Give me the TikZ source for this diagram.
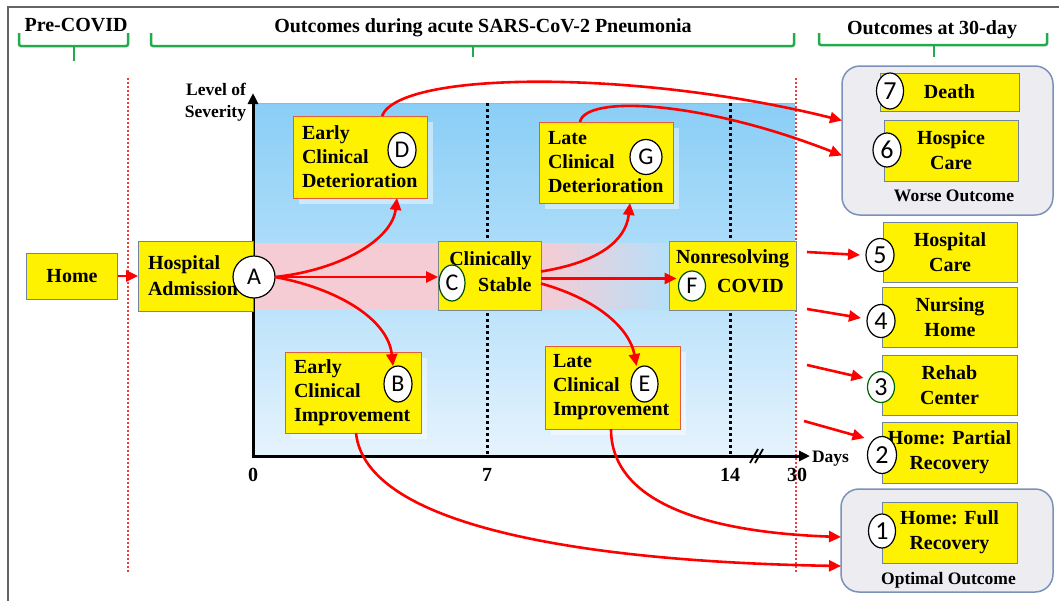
\documentclass[tikz,border=0pt]{standalone}
\usepackage{fontspec}
\setmainfont{Liberation Serif}
\newfontfamily\calibfont{Carlito}
\usetikzlibrary{arrows.meta,shapes.geometric,shadows}
\definecolor{bluetop}{RGB}{138,206,246}
\definecolor{bluemid}{RGB}{180,224,250}
\definecolor{bluebot}{RGB}{230,243,253}
\definecolor{bandpink}{RGB}{246,204,212}
\definecolor{bracegreen}{RGB}{34,170,76}
\definecolor{framegray}{RGB}{100,100,100}
\definecolor{boxblue}{RGB}{112,132,162}
\definecolor{boxred}{RGB}{228,92,64}
\definecolor{boxgray}{RGB}{125,135,140}
\definecolor{groupfill}{RGB}{236,236,241}
\definecolor{groupdraw}{RGB}{122,146,186}
\definecolor{arrowred}{RGB}{255,0,0}
\definecolor{dotred}{RGB}{240,60,60}
\begin{document}
\begin{tikzpicture}[x=1pt,y=-1pt,
  every node/.style={inner sep=0pt, outer sep=0pt},
  txt/.style={font=\bfseries\fontsize{20}{#1}\selectfont}, txt/.default=24,
  lbl/.style={font=\bfseries\fontsize{17.5}{21}\selectfont},
  ybox/.style={txt, fill=yellow, draw=#1, line width=0.9pt},
  shadowed/.style={drop shadow={shadow xshift=6pt, shadow yshift=-6pt, fill=white, opacity=0.45}},
  badge/.style={ellipse, draw=black, line width=1.2pt, fill=white, minimum width=28pt, minimum height=35pt, font=\calibfont\fontsize{24}{24}\selectfont},
  numbadge/.style={badge, font=\calibfont\fontsize{26}{26}\selectfont},
  redflow/.style={draw=arrowred, line width=2.6pt, -{Triangle[length=12pt,width=11pt]}},
  gbrace/.style={draw=bracegreen, line width=2.5pt, rounded corners=2pt},
  reddot/.style={draw=dotred, line width=2pt, dash pattern=on 2pt off 2pt},
  blackdot/.style={draw=black, line width=3pt, dash pattern=on 3pt off 3pt},
  axisline/.style={draw=black, line width=3pt, -{Triangle[length=11pt,width=10pt]}},
  groupbox/.style={draw=groupdraw, fill=groupfill, line width=1.5pt, rounded corners=18pt},
]
\useasboundingbox (0,0) rectangle (1059,600);

% frame
\draw[framegray, line width=2.2pt] (8,605) -- (8,7) -- (1065,7);

% headings
\node[txt, anchor=base] (hpre) at (76,31) {Pre-COVID};
\node[txt, anchor=base] (hacute) at (483,32) {Outcomes during acute SARS-CoV-2 Pneumonia};
\node[txt, anchor=base] (h30) at (932,34) {Outcomes at 30-day};

% braces
\draw[gbrace] (19,33) -- (19,46) -- (128,46) -- (128,33);
\draw[gbrace] (74,46) -- (74,61);
\draw[gbrace] (151,33) -- (151,46) -- (794,46) -- (794,33);
\draw[gbrace] (473,46) -- (473,57);
\draw[gbrace] (819,33) -- (819,45) -- (1047,45) -- (1047,33);
\draw[gbrace] (934,45) -- (934,57);

% left red dotted divider
\draw[reddot] (128,78) -- (128,572);

% plot area
\fill[top color=bluetop, bottom color=bluebot, middle color=bluemid] (253,103) rectangle (795,456);
\draw[boxblue!60, line width=0.8pt] (253,103) -- (795,103);
\fill[bandpink] (253,243) rectangle (545,309);
\fill[left color=bandpink, right color=bluemid] (545,243) rectangle (672,309);
\draw[blackdot] (487,103) -- (487,456);
\draw[blackdot] (730,103) -- (730,456);
\draw[reddot] (796,78) -- (796,572);

% axes
\draw[axisline] (253,457) -- (253,93);
\draw[axisline] (251.5,456) -- (810,456);
\draw[black, line width=1.8pt] (750,463) -- (758,449) (755,463) -- (763,449);
\node[txt, anchor=base] (t0) at (253,481) {0};
\node[txt, anchor=base] (t7) at (487,481) {7};
\node[txt, anchor=base] (t14) at (730,481) {14};
\node[txt, anchor=base] (t30) at (797,481) {30};
\node[lbl, anchor=base west] (days) at (812,462) {Days};
\node[lbl, anchor=base east] (lev1) at (246,95) {Level of};
\node[lbl, anchor=base east] (lev2) at (246,117) {Severity};

% outcome groups
\node[groupbox, minimum width=211pt, minimum height=149pt] (worse) at (947.5,140.5) {};
\node[groupbox, minimum width=212pt, minimum height=103pt] (optimal) at (947,540.5) {};
\node[lbl, anchor=base] (worselbl) at (954,201) {Worse Outcome};
\node[lbl, anchor=base] (optlbl) at (948.5,584) {Optimal Outcome};

% state boxes
\node[ybox=boxblue, minimum width=91pt, minimum height=46pt] (home) at (72,276) {Home};
\node[ybox=boxblue, txt=26, minimum width=115pt, minimum height=70pt, text width=95pt, align=left] (hosp) at (195.5,276) {Hospital\\Admission};
\node[ybox=boxred, shadowed, minimum width=134pt, minimum height=82pt, text width=116pt, align=left] (edet) at (360,157) {Early\\Clinical\\Deterioration};
\node[ybox=boxred, shadowed, minimum width=134pt, minimum height=81pt, text width=116pt, align=left] (ldet) at (606,162.5) {Late\\Clinical\\Deterioration};
\node[ybox=boxred, shadowed, minimum width=136pt, minimum height=81pt, text width=118pt, align=left] (eimp) at (353,392.5) {Early\\Clinical\\Improvement};
\node[ybox=boxred, shadowed, minimum width=135pt, minimum height=83pt, text width=119pt, align=left] (limp) at (612.5,387.5) {Late\\Clinical\\Improvement};
\node[ybox=boxgray, txt=26, text depth=34.5pt, minimum width=103pt, minimum height=69pt, text width=84pt, align=right] (stable) at (489.5,275.5) {Clinically\\Stable};
\node[ybox=boxgray, txt=29, text depth=38.5pt, minimum width=127pt, minimum height=69pt, text width=117pt, align=center] (nonres) at (732.5,275.5) {Nonresolving\\\hspace*{36pt}COVID};

% outcome boxes
\node[ybox=boxblue, txt=25, minimum width=139pt, minimum height=38pt, text width=124pt, align=center] (death) at (949.5,92) {Death};
\node[ybox=boxblue, txt=25, minimum width=134pt, minimum height=61pt, text width=124pt, align=center] (hospice) at (951,150.5) {Hospice\\Care};
\node[ybox=boxblue, txt=25, minimum width=134pt, minimum height=60pt, text width=124pt, align=center] (hcare) at (950,252) {Hospital\\Care};
\node[ybox=boxblue, txt=25, minimum width=135pt, minimum height=60pt, text width=124pt, align=center] (nursing) at (950,317) {Nursing\\Home};
\node[ybox=boxblue, txt=25, minimum width=135pt, minimum height=60pt, text width=124pt, align=center] (rehab) at (949.5,385) {Rehab\\Center};
\node[ybox=boxblue, txt=25, minimum width=135pt, minimum height=61pt, text width=133pt, align=center] (partial) at (949.5,452.5) {Home:\ Partial\\Recovery};
\node[ybox=boxblue, txt=25, minimum width=135pt, minimum height=61pt, text width=133pt, align=center] (full) at (949.5,532.5) {Home:\ Full\\Recovery};

% badges
\node[badge, minimum width=42pt, minimum height=42pt] (A) at (254,277) {A};
\node[badge] (D) at (402,150) {D};
\node[badge, minimum width=32pt] (G) at (646,157) {G};
\node[badge, minimum height=36pt] (B) at (398,384) {B};
\node[badge, minimum width=27pt, minimum height=36pt] (E) at (644.5,384) {E};
\node[badge, draw=black!70!green, minimum width=26pt, minimum height=36pt] (C) at (452,283) {C};
\node[badge, draw=black!70!green, minimum width=27pt, minimum height=30pt] (F) at (692,286) {F};
\node[numbadge, minimum width=27pt, minimum height=36pt] (n7) at (890,91) {7};
\node[numbadge, minimum height=34pt] (n6) at (887,150) {6};
\node[numbadge, minimum height=33pt] (n5) at (880,255) {5};
\node[numbadge, minimum height=33pt] (n4) at (881,321) {4};
\node[numbadge, draw=black!60!green, minimum width=27pt, minimum height=31pt] (n3) at (881,387) {3};
\node[numbadge, minimum width=29pt, minimum height=37pt] (n2) at (882,455) {2};
\node[numbadge, minimum width=27pt, minimum height=34pt] (n1) at (882,531) {1};

% connectors
\draw[redflow] (home.east) -- (hosp.west);
\draw[redflow] (A.east) -- (A.east -| stable.west);
\draw[redflow] (A.east) .. controls (340,270) and (392,240) .. ([xshift=37pt]edet.south);
\draw[redflow] (A.east) .. controls (335,288) and (388,318) .. ([xshift=-5pt]B.north);
\draw[redflow] ([yshift=4pt]stable.east) .. controls (600,262) and (626,240) .. ([xshift=24pt]ldet.south);
\path ([yshift=-3pt]stable.east) coordinate (sF);
\draw[redflow, shorten >=2pt] (sF) -- (sF -| F.west);
\draw[redflow] ([yshift=-8pt]stable.east) .. controls (600,300) and (630,330) .. ([xshift=-8pt]E.north);
\draw[redflow] ([xshift=22pt]edet.north) .. controls (400,70) and (640,70) .. ([yshift=20pt]worse.west);
\draw[redflow] ([xshift=-26pt]ldet.north) .. controls (585,95) and (700,100) .. ([yshift=-15pt]worse.west);
\draw[redflow] ([xshift=3pt]eimp.south) .. controls (366,530) and (600,562) .. ([yshift=-25.5pt]optimal.west);
\draw[redflow] ([xshift=-1.5pt]limp.south) .. controls (611,500) and (700,532) .. ([yshift=3.5pt]optimal.west);

\coordinate (s5) at (807,252);
\coordinate (s4) at (807,309);
\coordinate (s3) at (807,365);
\coordinate (s2) at (804,421);
\draw[redflow] (s5) -- ([xshift=-6pt]n5.west);
\draw[redflow] (s4) -- ([xshift=-6pt,yshift=3pt]n4.west);
\draw[redflow] (s3) -- ([xshift=-4pt,yshift=9pt]n3.west);
\draw[redflow] (s2) -- ([xshift=-3pt,yshift=17pt]n2.west);
\end{tikzpicture}
\end{document}
